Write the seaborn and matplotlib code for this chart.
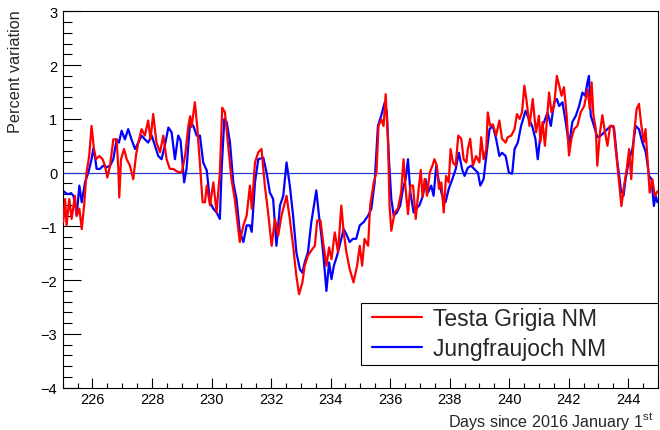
import matplotlib
matplotlib.use("Agg")
import matplotlib.pyplot as plt
from matplotlib.ticker import MultipleLocator
from matplotlib.patches import Rectangle
import seaborn as sns
import pandas as pd

# Testa Grigia neutron monitor: day of year, percent variation
testa_days = [
    225.02, 225.08, 225.13, 225.22, 225.30, 225.41, 225.47, 225.56, 225.64, 225.72,
    225.80, 225.89, 225.97, 226.05, 226.12, 226.23, 226.34, 226.42, 226.50, 226.59,
    226.70, 226.81, 226.87, 226.90, 226.96, 227.06, 227.15, 227.26, 227.37, 227.46,
    227.54, 227.65, 227.76, 227.87, 227.95, 228.04, 228.15, 228.27, 228.38, 228.49,
    228.60, 228.71, 228.85, 229.00, 229.12, 229.22, 229.28, 229.33, 229.39, 229.44,
    229.52, 229.60, 229.70, 229.78, 229.84, 229.95, 230.06, 230.17, 230.28, 230.36,
    230.45, 230.56, 230.67, 230.78, 230.95, 231.07, 231.18, 231.29, 231.35, 231.46,
    231.57, 231.68, 231.79, 231.90, 232.02, 232.13, 232.24, 232.35, 232.52, 232.63,
    232.74, 232.85, 232.94, 233.05, 233.13, 233.24, 233.35, 233.47, 233.55, 233.66,
    233.75, 233.86, 233.95, 234.03, 234.14, 234.25, 234.36, 234.44, 234.53, 234.64,
    234.77, 234.89, 234.98, 235.06, 235.14, 235.26, 235.33, 235.45, 235.54, 235.61,
    235.70, 235.78, 235.85, 235.93, 235.98, 236.04, 236.15, 236.26, 236.37, 236.45,
    236.52, 236.60, 236.68, 236.77, 236.86, 236.97, 237.03, 237.09, 237.16, 237.24,
    237.33, 237.42, 237.49, 237.57, 237.64, 237.72, 237.80, 237.88, 237.97, 238.03,
    238.11, 238.20, 238.29, 238.39, 238.47, 238.56, 238.61, 238.69, 238.78, 238.89,
    239.00, 239.06, 239.14, 239.23, 239.28, 239.36, 239.45, 239.56, 239.67, 239.76,
    239.88, 239.95, 240.07, 240.18, 240.26, 240.35, 240.43, 240.51, 240.59, 240.68,
    240.79, 240.90, 241.00, 241.05, 241.12, 241.20, 241.29, 241.34, 241.42, 241.51,
    241.60, 241.68, 241.76, 241.84, 241.93, 242.01, 242.09, 242.18, 242.29, 242.40,
    242.52, 242.63, 242.71, 242.77, 242.83, 242.91, 242.96, 243.05, 243.13, 243.22,
    243.30, 243.39, 243.50, 243.58, 243.67, 243.77, 243.86, 243.95, 244.03, 244.10,
    244.19, 244.28, 244.36, 244.44, 244.53, 244.58, 244.66, 244.72, 244.81, 244.89,
    244.98,
]
testa_values = [
    -0.92, -0.49, -0.98, -0.49, -0.86, -0.43, -0.80, -0.67, -1.05, -0.61,
    0.00, 0.31, 0.87, 0.44, 0.25, 0.31, 0.25, 0.13, -0.09, 0.13,
    0.62, 0.62, 0.07, -0.46, 0.25, 0.44, 0.25, 0.13, -0.12, 0.31,
    0.56, 0.81, 0.69, 0.97, 0.62, 1.09, 0.56, 0.38, 0.69, 0.25,
    0.07, 0.07, 0.02, 0.00, 0.35, 0.86, 1.05, 0.85, 1.10, 1.31,
    0.85, 0.25, -0.55, -0.55, -0.24, -0.61, -0.18, -0.74, 0.00, 1.21,
    1.12, 0.50, -0.12, -0.49, -1.29, -0.98, -0.80, -0.24, -0.67, 0.19,
    0.38, 0.44, -0.24, -0.74, -1.36, -0.86, -1.17, -0.80, -0.43, -0.86,
    -1.36, -1.92, -2.26, -2.05, -1.73, -1.54, -1.45, -1.36, -0.89, -0.89,
    -1.29, -1.73, -1.39, -1.61, -1.11, -1.48, -0.61, -1.11, -1.48, -1.79,
    -2.04, -1.73, -1.36, -1.73, -1.23, -1.36, -0.61, -0.18, 0.00, 0.87,
    0.99, 0.87, 1.46, 0.56, -0.61, -1.08, -0.74, -0.67, -0.37, 0.25,
    -0.30, -0.77, -0.24, -0.24, -0.86, -0.24, 0.05, -0.45, -0.12, -0.43,
    0.00, 0.13, 0.25, 0.13, -0.30, -0.18, -0.74, -0.06, -0.18, 0.44,
    0.19, 0.13, 0.69, 0.63, 0.25, 0.19, 0.44, 0.63, 0.13, 0.31,
    0.19, 0.66, 0.25, 0.44, 1.12, 0.87, 0.90, 0.69, 0.97, 0.63,
    0.56, 0.66, 0.69, 0.81, 1.09, 1.00, 1.12, 1.62, 1.31, 0.87,
    1.37, 0.75, 1.06, 0.57, 0.94, 0.50, 1.12, 1.49, 1.12, 1.24,
    1.80, 1.62, 1.43, 1.59, 1.07, 0.32, 0.63, 0.81, 0.87, 1.12,
    1.24, 1.55, 1.18, 1.68, 1.07, 0.81, 0.13, 0.75, 1.07, 0.75,
    0.50, 0.87, 0.87, 0.44, -0.06, -0.62, -0.24, 0.07, 0.44, -0.12,
    0.69, 1.18, 1.28, 0.87, 0.57, 0.81, 0.13, -0.37, -0.12, -0.43,
    -0.35,
]

# Jungfraujoch neutron monitor: day of year, percent variation
jungfrau_days = [
    225.02, 225.10, 225.19, 225.28, 225.36, 225.42, 225.47, 225.56, 225.64, 225.75,
    225.86, 225.97, 226.03, 226.08, 226.14, 226.25, 226.36, 226.47, 226.59, 226.70,
    226.81, 226.89, 226.98, 227.09, 227.20, 227.31, 227.43, 227.54, 227.65, 227.76,
    227.87, 227.99, 228.10, 228.21, 228.32, 228.43, 228.55, 228.66, 228.77, 228.88,
    228.96, 229.02, 229.08, 229.16, 229.28, 229.39, 229.50, 229.61, 229.72, 229.84,
    229.95, 230.06, 230.17, 230.28, 230.34, 230.43, 230.51, 230.62, 230.73, 230.84,
    230.95, 231.07, 231.18, 231.29, 231.35, 231.46, 231.57, 231.74, 231.85, 231.96,
    232.07, 232.18, 232.30, 232.41, 232.52, 232.63, 232.74, 232.85, 232.97, 233.05,
    233.13, 233.24, 233.35, 233.44, 233.52, 233.61, 233.69, 233.77, 233.86, 233.95,
    234.03, 234.11, 234.22, 234.30, 234.44, 234.55, 234.64, 234.75, 234.86, 234.98,
    235.11, 235.26, 235.37, 235.48, 235.59, 235.70, 235.82, 235.89, 235.96, 236.04,
    236.12, 236.23, 236.34, 236.43, 236.52, 236.60, 236.68, 236.79, 236.88, 236.99,
    237.10, 237.19, 237.27, 237.38, 237.46, 237.55, 237.64, 237.75, 237.86, 237.97,
    238.09, 238.20, 238.31, 238.42, 238.50, 238.61, 238.72, 238.84, 238.95, 239.03,
    239.14, 239.23, 239.34, 239.45, 239.56, 239.67, 239.76, 239.88, 239.99, 240.10,
    240.18, 240.29, 240.40, 240.55, 240.66, 240.77, 240.88, 240.96, 241.07, 241.17,
    241.29, 241.40, 241.51, 241.60, 241.68, 241.79, 241.90, 242.01, 242.12, 242.24,
    242.35, 242.46, 242.55, 242.63, 242.68, 242.74, 242.85, 242.96, 243.08, 243.19,
    243.30, 243.41, 243.52, 243.63, 243.75, 243.84, 243.91, 244.03, 244.14, 244.25,
    244.36, 244.47, 244.59, 244.70, 244.78, 244.86, 244.92, 244.98,
]
jungfrau_values = [
    -0.34, -0.38, -0.40, -0.38, -0.43, -0.60, -0.80, -0.24, -0.55, -0.18,
    0.00, 0.25, 0.45, 0.31, 0.07, 0.07, 0.13, 0.10, 0.13, 0.25,
    0.62, 0.56, 0.78, 0.62, 0.81, 0.62, 0.44, 0.56, 0.69, 0.62,
    0.56, 0.69, 0.50, 0.31, 0.25, 0.50, 0.84, 0.75, 0.25, 0.69,
    0.60, 0.20, -0.18, 0.07, 0.94, 0.87, 0.69, 0.69, 0.19, 0.04,
    -0.55, -0.67, -0.74, -0.86, 0.07, 1.00, 0.94, 0.56, -0.18, -0.49,
    -1.10, -1.29, -0.98, -0.98, -1.10, -0.18, 0.25, 0.28, 0.00, -0.37,
    -0.49, -1.36, -0.61, -0.43, 0.19, -0.24, -0.80, -1.48, -1.80, -1.86,
    -1.67, -1.48, -0.93, -0.61, -0.33, -0.80, -1.17, -1.61, -2.20, -1.67,
    -1.98, -1.73, -1.54, -1.36, -1.05, -1.17, -1.29, -1.23, -1.23, -0.98,
    -0.92, -0.80, -0.67, -0.18, 0.87, 1.06, 1.31, 1.12, 0.25, -0.49,
    -0.80, -0.74, -0.61, -0.30, -0.12, 0.25, -0.37, -0.74, -0.67, -0.60,
    -0.43, -0.12, -0.37, -0.24, -0.43, 0.13, -0.18, -0.43, -0.55, -0.30,
    -0.12, 0.06, 0.37, 0.06, -0.06, 0.09, 0.13, 0.06, 0.00, -0.24,
    -0.12, 0.31, 0.81, 0.87, 0.63, 0.31, 0.37, 0.31, 0.00, -0.02,
    0.44, 0.56, 0.87, 1.15, 1.00, 0.87, 0.63, 0.25, 0.81, 0.94,
    1.12, 0.87, 1.31, 1.37, 1.24, 1.31, 0.94, 0.50, 0.94, 1.06,
    1.24, 1.49, 1.43, 1.68, 1.80, 1.06, 0.87, 0.66, 0.69, 0.75,
    0.81, 0.87, 0.84, 0.22, -0.30, -0.43, -0.12, 0.25, 0.44, 0.87,
    0.81, 0.57, 0.38, -0.06, -0.12, -0.62, -0.43, -0.55,
]

x_range = (225, 245)
y_range = (-4, 3)
series_names = ["Testa Grigia NM", "Jungfraujoch NM"]
series_colors = ["#ff0000", "#0000ff"]

sns.set_theme(style="ticks")
plt.rcParams["font.family"] = ["Liberation Sans", "DejaVu Sans"]
plt.rcParams["mathtext.default"] = "regular"

testa = pd.DataFrame({"day": testa_days, "variation": testa_values})
jungfrau = pd.DataFrame({"day": jungfrau_days, "variation": jungfrau_values})

fig = plt.figure(figsize=(6.6, 4.31), dpi=100)
ax = fig.add_axes([0.095, 0.098, 0.902, 0.8733])

ax.axhline(0, color="#2a3ccc", lw=0.9, zorder=1)
sns.lineplot(data=testa, x="day", y="variation", color=series_colors[0], lw=1.6,
             estimator=None, label=series_names[0], ax=ax, zorder=3)
sns.lineplot(data=jungfrau, x="day", y="variation", color=series_colors[1], lw=1.6,
             estimator=None, label=series_names[1], ax=ax, zorder=2)

ax.set_xlim(*x_range)
ax.set_ylim(*y_range)

ax.xaxis.set_major_locator(MultipleLocator(2))
ax.xaxis.set_minor_locator(MultipleLocator(0.5))
ax.yaxis.set_major_locator(MultipleLocator(1))
ax.yaxis.set_minor_locator(MultipleLocator(0.2))

ax.tick_params(axis="both", which="both", direction="in", top=False, right=False,
               colors="black", width=0.8)
ax.tick_params(axis="x", which="major", length=7.5, pad=3.2, labelsize=10.5)
ax.tick_params(axis="x", which="minor", length=3.8)
ax.tick_params(axis="y", which="major", length=13, pad=4, labelsize=10.5)
ax.tick_params(axis="y", which="minor", length=6.5)

ax.yaxis.set_major_formatter(plt.FuncFormatter(lambda v, p: f"{v:g}".replace("-", "\u2212")))

for sp in ax.spines.values():
    sp.set_visible(True)
    sp.set_color("black")
    sp.set_linewidth(0.8)

ax.set_xlabel("Days since 2016 January 1$^{st}$", fontsize=11.6, loc="right")
ax.xaxis.set_label_coords(0.993, -0.059)
ax.set_ylabel("Percent variation", fontsize=11.7, loc="top")
ax.yaxis.set_label_coords(-0.066, 1.006)

# Legend box spanning the lower right of the frame
ax.add_patch(Rectangle((0.501, 0.06), 0.499, 0.165, transform=ax.transAxes,
                       facecolor="white", edgecolor="black", lw=0.8, zorder=4))
leg_fs = 16.5
leg = ax.legend(loc="center left", bbox_to_anchor=(0.5155, 0.144),
                borderaxespad=0, fontsize=leg_fs, frameon=False,
                handlelength=2.18, handletextpad=0.5, borderpad=0.1,
                labelspacing=0.3)
leg.set_zorder(5)
for line in leg.get_lines():
    line.set_linewidth(1.6)

fig.savefig("out.png", dpi=100)
